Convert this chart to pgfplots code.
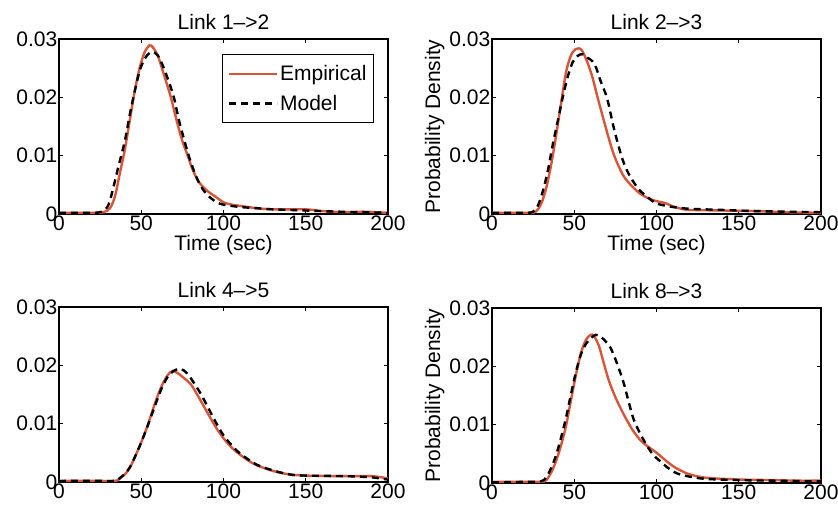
\documentclass[border=0pt]{standalone}
\usepackage{fontspec}
\setmainfont{Liberation Sans}
\usepackage{pgfplots}
\pgfplotsset{compat=1.18}
\definecolor{empC}{HTML}{D8553A}

\newcommand{\figfont}{\fontsize{21}{23}\selectfont}

\pgfplotsset{
  linkax/.style={
    scale only axis, width=329pt, height=175pt,
    xmin=0, xmax=200, ymin=0, ymax=0.03,
    xtick={0,50,100,150,200}, ytick={0,0.01,0.02,0.03},
    tick align=inside, major tick length=4pt,
    axis line style={line width=1.1pt},
    every tick/.style={black, line width=0.9pt},
    scaled y ticks=false,
    yticklabel style={/pgf/number format/fixed, /pgf/number format/precision=2},
    /pgf/number format/assume math mode=true,
    tick label style={font=\figfont, inner sep=1.5pt},
    label style={font=\figfont},
    title style={font=\figfont},
  },
  emp/.style={empC, line width=2.4pt, smooth},
  mod/.style={black, line width=2.4pt, dash pattern=on 7pt off 5pt, smooth},
}

\begin{document}
\begin{tikzpicture}
  \path[use as bounding box] (0pt,0pt) rectangle (838pt,-508pt);

  % Link 1->2
  \begin{axis}[linkax, at={(59pt,-214pt)}, anchor=south west,
      title={Link 1-->2}, xlabel={Time (sec)},
      legend cell align=left,
      legend image code/.code={\draw[#1] (0pt,0pt) -- (48pt,0pt);},
      legend style={at={(1,1)}, anchor=north east, xshift=-14pt, yshift=-15pt,
        draw=black, line width=1pt, font=\figfont, row sep=9pt,
        inner xsep=5pt, inner ysep=9pt}]
    \addplot[emp] coordinates {
      (0,0.0002)(20,0.0002)(27,0.0003)(31,0.001)(34,0.003)(37,0.007)(40,0.011)
      (43,0.016)(46,0.021)(49,0.025)(52,0.0277)(55,0.0289)(57,0.0286)(60,0.0272)
      (62,0.0255)(65,0.0228)(68,0.02)(72,0.0155)(75,0.0125)(78,0.0102)(81,0.0078)
      (85,0.0055)(90,0.004)(95,0.003)(100,0.002)(105,0.0016)(110,0.0014)(120,0.001)
      (130,0.0008)(150,0.0008)(160,0.0005)(175,0.0003)(185,0.0004)(200,0.0002)};
    \addlegendentry{Empirical}
    \addplot[mod] coordinates {
      (0,0.0002)(20,0.0002)(26,0.0004)(30,0.0015)(33,0.0045)(36,0.008)(40,0.0125)
      (43,0.017)(46,0.021)(49,0.0245)(52,0.0266)(55,0.0276)(57,0.0278)(60,0.0272)
      (63,0.0255)(67,0.0225)(70,0.0198)(73,0.016)(77,0.0118)(80,0.009)(84,0.006)
      (88,0.004)(92,0.0028)(96,0.002)(100,0.0016)(110,0.0012)(120,0.001)(130,0.0008)
      (150,0.0006)(170,0.0004)(200,0.0002)};
    \addlegendentry{Model}
  \end{axis}

  % Link 2->3
  \begin{axis}[linkax, at={(492pt,-214pt)}, anchor=south west,
      title={Link 2-->3}, xlabel={Time (sec)}, ylabel={Probability Density}]
    \addplot[emp] coordinates {
      (0,0.0002)(15,0.0002)(24,0.0002)(27,0.0005)(30,0.0018)(33,0.0045)(36,0.0085)
      (39,0.0135)(42,0.019)(45,0.0243)(48,0.0272)(51,0.0283)(53,0.0284)(55,0.0279)
      (58,0.026)(61,0.0235)(64,0.0202)(68,0.016)(72,0.012)(75,0.0095)(80,0.0065)
      (85,0.0048)(90,0.0035)(95,0.0027)(100,0.0022)(105,0.0019)(110,0.0013)
      (115,0.0009)(120,0.0007)(140,0.0006)(160,0.0005)(180,0.0003)(200,0.0002)};
    \addplot[mod] coordinates {
      (0,0.0002)(20,0.0002)(25,0.0004)(28,0.0015)(31,0.004)(34,0.0075)(37,0.012)
      (40,0.016)(43,0.02)(46,0.0235)(49,0.026)(52,0.0271)(55,0.0274)(58,0.0268)
      (61,0.0262)(63.4,0.025)(66,0.0228)(70,0.0198)(74,0.0148)(78.6,0.01)(82,0.0075)
      (86,0.0055)(90,0.004)(95,0.0028)(100,0.0018)(110,0.0012)(120,0.0009)
      (140,0.0007)(160,0.0005)(200,0.0003)};
  \end{axis}

  % Link 4->5
  \begin{axis}[linkax, at={(59pt,-482pt)}, anchor=south west,
      title={Link 4-->5}]
    \addplot[emp] coordinates {
      (0,0.0002)(20,0.0002)(34,0.0002)(37,0.0006)(40,0.0013)(43,0.0024)(46,0.0042)
      (50,0.0068)(54,0.0098)(58,0.0132)(62,0.0162)(66,0.0183)(69,0.019)(72,0.0187)
      (76,0.0178)(80,0.0168)(84,0.015)(88,0.013)(92,0.011)(96,0.0091)(100,0.0075)
      (105,0.0059)(110,0.0047)(115,0.0037)(120,0.0029)(130,0.0019)(140,0.0013)
      (150,0.0011)(170,0.001)(190,0.001)(200,0.0006)};
    \addplot[mod] coordinates {
      (0,0.0001)(5,0.0002)(20,0.0002)(34,0.0002)(37,0.0007)(40,0.0014)(43,0.0025)
      (46,0.0042)(50,0.0068)(54,0.0097)(58,0.0128)(62,0.0158)(66,0.018)(70,0.0191)
      (74,0.0194)(78,0.0186)(82,0.017)(86,0.0152)(90,0.0131)(95,0.0104)(100,0.008)
      (105,0.0063)(110,0.0049)(120,0.003)(130,0.002)(140,0.0013)(150,0.0011)
      (175,0.001)(190,0.0008)(200,0.0004)};
  \end{axis}

  % Link 8->3
  \begin{axis}[linkax, at={(492pt,-483pt)}, anchor=south west,
      title={Link 8-->3}, ylabel={Probability Density}]
    \addplot[emp] coordinates {
      (0,0.0002)(20,0.0002)(30,0.0002)(33,0.0005)(36,0.0018)(39,0.0038)(42,0.0065)
      (45,0.0098)(48,0.0142)(51,0.0185)(54,0.0222)(57,0.0245)(60,0.0254)(62,0.0252)
      (65,0.0235)(68,0.0205)(71,0.0176)(75,0.0147)(80,0.0118)(85,0.0093)(90,0.0074)
      (95,0.0062)(100,0.0052)(105,0.004)(110,0.0029)(115,0.0021)(120,0.0015)
      (130,0.0009)(150,0.0006)(170,0.0005)(185,0.0004)(200,0.0004)};
    \addplot[mod] coordinates {
      (0,0.0001)(20,0.0002)(30,0.0003)(33,0.001)(36,0.0026)(39,0.0048)(42,0.0078)
      (45,0.0112)(48,0.0152)(51,0.019)(54,0.022)(57,0.0238)(60,0.0248)(63,0.0254)
      (65,0.0253)(68,0.0246)(72,0.0232)(76,0.0205)(80,0.0172)(83,0.014)(86,0.011)
      (90,0.0085)(94,0.0065)(98,0.0048)(102,0.0038)(106,0.0028)(112,0.0017)
      (120,0.0011)(130,0.0007)(150,0.0005)(170,0.0004)(200,0.0003)};
  \end{axis}
\end{tikzpicture}
\end{document}
